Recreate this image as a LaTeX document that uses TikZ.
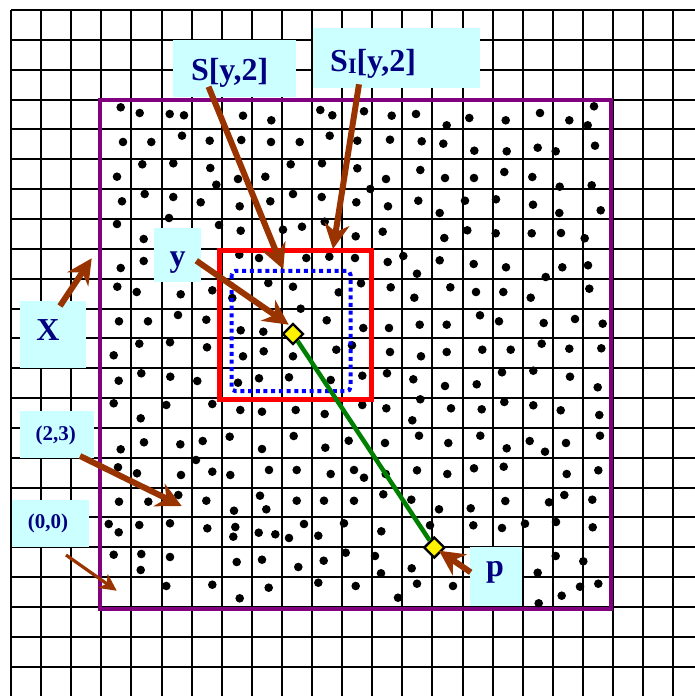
\documentclass[tikz,border=0pt]{standalone}
\usepackage{fontspec}
\setmainfont{Liberation Serif}
\usetikzlibrary{arrows.meta,shapes.geometric}
\definecolor{navy}{HTML}{000080}
\definecolor{cyanbox}{HTML}{CCFFFF}
\definecolor{brownarr}{HTML}{993300}
\definecolor{purp}{HTML}{800080}
\definecolor{grn}{HTML}{008000}
\definecolor{bluedot}{HTML}{0000FF}
\begin{document}
\begin{tikzpicture}[x=1pt,y=-1pt,
  gridline/.style={line width=2pt, black},
  box/.style={fill=cyanbox, draw=none, inner sep=0pt},
  lbl/.style={text=navy, font=\bfseries\fontsize{32}{36}\selectfont, inner sep=0pt, anchor=base},
  slbl/.style={text=navy, font=\bfseries\fontsize{21}{24}\selectfont, inner sep=0pt, anchor=base},
  pointer/.style={brownarr, line width=6pt, -{Stealth[length=25pt,width=25pt,inset=8pt]}},
  smallpointer/.style={brownarr, line width=3.2pt, -{Stealth[length=17pt,width=17pt,inset=5pt]}},
  mark point/.style={diamond, aspect=1, fill=yellow, draw=black, line width=2.4pt, minimum width=21pt, minimum height=21pt, inner sep=0pt},
  pt dot/.style={circle, fill=black, draw=none, inner sep=0pt, outer sep=0pt, minimum size=8.6pt}
]
\useasboundingbox (0,0) rectangle (695,696);
\fill[white] (0,0) rectangle (695,696);
% grid
\foreach \k in {0,...,22} {
  \draw[gridline] ({11+30.1*\k},10) -- ({11+30.1*\k},698);
  \draw[gridline] (11,{10+29.85*\k}) -- (697,{10+29.85*\k});
}
% region X
\draw[purp, line width=4pt] (99.7,99.7) rectangle (611,608.7);
% points
\foreach \px/\py [count=\i] in {
120.7/107.3, 139.7/113, 169.7/114, 184/115.3, 243/115.7, 271.3/120.3, 320.3/110, 332.3/115.3, 364/111.3, 391.7/115.7, 416/114, 446.7/125.3, 469.3/118, 505.7/120.3, 540/113, 569.3/120.3, 594/106.3, 587.7/125.3,
123/142, 151.3/142, 182/135.7, 209.7/140.7, 241.3/140, 271/142, 299.7/142, 329.7/135.7, 357.3/140.7, 390/139.7, 421.7/141.3, 443.3/143.7, 474.3/150.7, 506.7/151.3, 537.7/147.7, 555.7/151.3, 595/145.7,
117/176.7, 142.3/164.3, 173.3/163.3, 210.3/168, 216.3/184.7, 238/179, 265.3/176.7, 290.7/164.3, 322/163.3, 357.3/168.3, 370.3/189, 386/179, 420.3/170, 445/178, 474/178, 504.3/172, 532.3/177, 559.7/186.7, 591.7/185.3,
122/201.3, 144.7/194, 173.3/197, 200.7/202.3, 239.7/206.3, 270.3/201.3, 293/194, 321.7/197, 356.3/202.3, 388/206.3, 418.3/200.7, 439.7/213, 465/200.7, 496/199.3, 533/204.7, 559.3/213, 600.7/210.3,
117/224, 143.7/239, 169/218, 219/225, 240.7/230.7, 283/229.7, 302/226.7, 324.7/221.7, 355.7/236.3, 382.7/231.7, 444.3/238, 467.3/230.3, 495.7/233.3, 531.7/233.3, 561/233, 584.7/238.3,
120.7/268, 143.7/261, 239.3/254.7, 259/258, 306.3/258, 329.3/256.7, 355/258, 387.7/262, 403.3/256, 417/273.7, 439.7/260.3, 473.7/264, 506/267.3, 545.7/277, 562.3/267.3, 588/265.3,
117.3/286.7, 136.7/292, 180.7/294.3, 212.3/290.3, 232.3/298, 268.3/283, 293/286.7, 338.7/292.3, 361/283.3, 390.7/287.3, 414.3/297.7, 450.3/287.3, 476/292, 503.3/292, 530.7/297.7, 589.3/288.7,
119/321.3, 148/321.3, 178/315, 206.3/319.7, 300.7/308.7, 326.7/320.3, 240.7/330.3, 263.3/331.7, 363.3/328, 389/328, 419.7/324.7, 446.7/324.7, 480/315.3, 499/321.3, 543.7/323, 575/319, 602.7/323.7,
139.3/343.7, 170/342.3, 207/347.3, 113.7/355.3, 243/356.3, 263.7/351.3, 293/356.3, 336.3/349.7, 352/345.3, 390/352, 421/356.3, 446.7/352, 482.3/349.7, 510.7/349.7, 541.7/343.7, 569.3/348.7, 601.3/348.3,
118.7/380.7, 141.3/373.3, 170.3/376.7, 197.3/381, 238/382.7, 259/378.3, 289/377.3, 330.7/380, 362.3/375.7, 387/373.3, 413.3/379.3, 445/386, 476.7/384.3, 502/372.3, 533.3/370.7, 570/376.7, 597.7/387.3,
113.7/403.3, 140.7/418.3, 166.3/405, 212.3/404, 240.3/410, 262/411.7, 295.7/410, 324.7/414, 362.3/405, 386.3/408.3, 420.3/399.3, 412.3/420.3, 451/408.3, 481.7/409.3, 504.3/402, 533.3/405.3, 560.7/410.3, 599.3/415,
120.7/449.3, 144/442.3, 180.3/444.3, 202.7/441, 229.7/436.7, 262/449, 293.7/436, 325.3/447.7, 348.7/440.7, 196/460, 385/443, 419/435.7, 448.3/443, 480.3/435.7, 506.7/448.3, 529.7/441, 545/451.7, 566/443, 600/435.7,
118/467.3, 137/473.3, 181/475, 212.3/471.7, 230.3/475, 269/470, 296.7/470, 330.7/474, 354/470, 364/477.7, 385.7/474, 417/470.3, 447.3/474, 474/468.3, 503.7/466.7, 566.7/474, 598.3/470.3,
119/501.7, 148.3/501.7, 178.3/495, 206.3/500.7, 234/510.7, 260/495.7, 266.3/509.3, 296.7/500.7, 324/500.7, 354/500.8, 383.3/494.3, 411.3/499.7, 439/509.3, 470.7/508.3, 505.3/501, 549/502.3, 564.3/495, 592.3/499.7,
108.7/524, 118.7/532.3, 139.3/525, 170/523.3, 207.3/528.3, 235.3/527, 233.3/536.7, 258.7/532.7, 275.3/534.3, 289/538, 304/524, 318.3/535.7, 344/523.3, 381.3/531.3, 430/525.3, 473.3/525.3, 502/528, 525/523.7, 556/522, 592.7/527.3,
113.7/554.7, 141.3/554, 140.7/570, 170/557, 236.7/562, 262/559.7, 298.3/567, 323.7/560.7, 345.7/552.7, 375/556, 381/573.3, 411.7/568.3, 537.7/572.7, 555.7/556, 583.3/561.3,
166.3/586, 212.3/584.7, 239.7/598.3, 268.7/587.7, 318.3/582.7, 355.7/586, 398/597.7, 417/583.7, 453/586, 538.7/603.3, 561.7/595.7, 580/586.7, 598.3/583.7}
{ \node[pt dot] (d\i) at (\px,\py) {}; }
% squares
\draw[red, line width=5pt] (219.3,250.2) rectangle (371.7,399.2);
\draw[bluedot, line width=4pt, dash pattern=on 4pt off 3.7pt, rounded corners=4pt] (231.7,270.8) rectangle (350.5,391.2);
% points y and p
\node[mark point] (ydia) at (293,334) {};
\node[mark point] (pdia) at (434.3,547.5) {};
\draw[grn, line width=4.5pt] (ydia) -- (pdia);
% label boxes
\node[box, minimum width=122.4pt, minimum height=57pt] (Sbox) at (234.5,68.5) {};
\node[box, minimum width=166.7pt, minimum height=59.4pt] (SIbox) at (396.7,58) {};
\node[box, minimum width=66pt, minimum height=66.7pt] (Xbox) at (53,334.3) {};
\node[box, minimum width=46.7pt, minimum height=54.3pt] (Ybox) at (177.3,255.2) {};
\node[box, minimum width=74pt, minimum height=46.7pt] (Tbox) at (57,434.3) {};
\node[box, minimum width=77.6pt, minimum height=46.7pt] (Obox) at (50.5,523.3) {};
\node[box, minimum width=51.7pt, minimum height=59.3pt] (Pbox) at (495.8,576.3) {};
% texts
\node[lbl] (S) at (229.7,80.5) {S[y,2]};
\node[lbl, anchor=base west] (SI) at (330,71) {S\raisebox{-2pt}{\fontsize{22}{22}\selectfont I}[y,2]};
\node[lbl] (X) at (48,340.7) {X};
\node[lbl] (Y) at (177.5,266) {y};
\node[lbl] (P) at (495,576.5) {p};
\node[slbl] (T23) at (55.8,440) {(2,3)};
\node[slbl] (T00) at (48,528.3) {(0,0)};
% arrow ends
\coordinate (sTail) at (208.5,86.7);  \coordinate (sTip) at (283.3,269.3);
\coordinate (siTail) at (359,84.3);   \coordinate (siTip) at (333,249);
\coordinate (yTail) at (196.3,260.7); \coordinate (yTip) at (288.7,324.7);
\coordinate (xTail) at (60,306);      \coordinate (xTip) at (91.7,258.3);
\coordinate (tTail) at (80,456);      \coordinate (tTip) at (181.7,506);
\coordinate (oTail) at (66,555);      \coordinate (oTip) at (116.7,590.7);
\coordinate (pTail) at (470.7,572.3); \coordinate (pTip) at (439,550.7);
\draw[pointer] (sTail) -- (sTip);
\draw[pointer] (siTail) -- (siTip);
\draw[pointer] (yTail) -- (yTip);
\draw[pointer] (xTail) -- (xTip);
\draw[pointer] (tTail) -- (tTip);
\draw[smallpointer] (oTail) -- (oTip);
\draw[pointer] (pTail) -- (pTip);
\end{tikzpicture}
\end{document}
